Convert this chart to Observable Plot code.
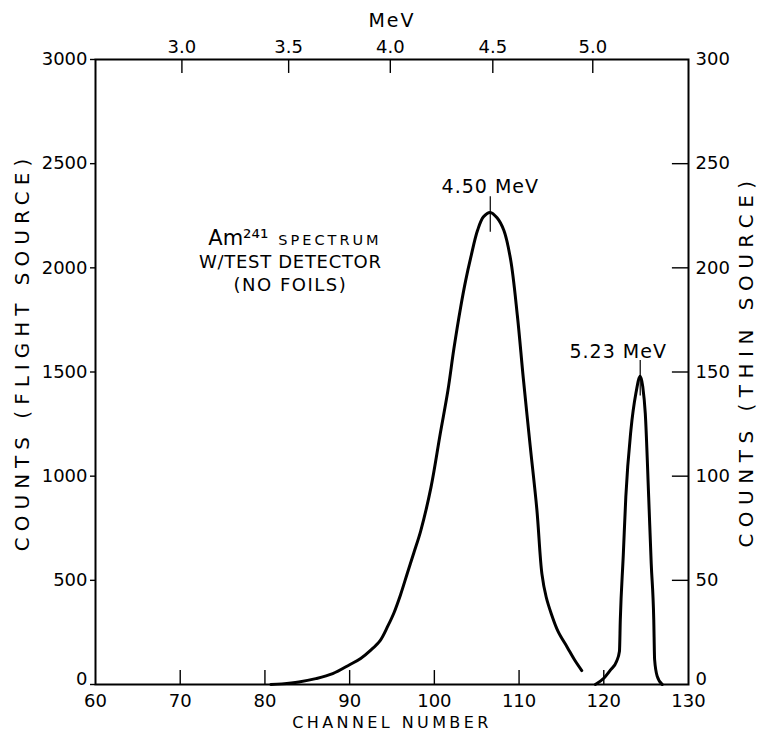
<!DOCTYPE html>
<html><head><meta charset="utf-8">
<script src="https://cdn.jsdelivr.net/npm/d3@7"></script>
<script src="https://cdn.jsdelivr.net/npm/@observablehq/plot@0.6"></script>
<style>body{margin:0;background:#fff}</style>
</head><body><div id="chart"></div>
<script>
// Flight source spectrum (left axis, counts)
const flightChannel = [80.7,82,84,86,88,90,91.3,92.5,93.6,94.5,95.2,96,96.8,97.6,98.4,99.6,100.7,101.6,102.3,103.1,103.7,104.3,105.1,105.8,106.6,107.4,108.2,109.0,109.8,110.5,111.3,112.1,112.7,113.2,113.8,114.6,115.7,116.6,117.4];
const flightCounts  = [0,3,12,28,52,95,125,165,211,280,341,430,533,635,739,946,1205,1411,1610,1810,1940,2050,2180,2245,2266,2240,2180,2040,1770,1470,1150,840,530,420,340,255,178,115,67];
// Thin source spectrum (right axis, counts)
const thinChannel = [119.0,120.0,120.8,121.5,121.85,121.95,122.3,122.6,123.2,123.8,124.3,124.6,124.9,125.3,125.6,125.9,126.0,126.3,126.9];
const thinCounts  = [0,3,7,11,16,31,62,90,122,140,148,143,130,90,58,31,12,4,0];

const channelTicks = [60,70,80,90,100,110,120,130];
const countTicks = [0,500,1000,1500,2000,2500,3000];
const thinTicks = [0,50,100,150,200,250,300];
const mevLabels = ["3.0","3.5","4.0","4.5","5.0"];
const mevChannels = [70.2,82.8,94.8,106.9,118.7];
const peakLabels = ["4.50 MeV","5.23 MeV"];
const peakChannels = [106.6,124.3];
const peakCounts = [2266,1480];
const noteLines = ["W/TEST DETECTOR","(NO FOILS)"];

const flight = flightChannel.map((c,i)=>({c, v: flightCounts[i]}));
const thin = thinChannel.map((c,i)=>({c, v: thinCounts[i]}));
const thinScale = 3000/300;
const thinLabel = new Map(countTicks.map((t,i)=>[t, String(thinTicks[i])]));
const mevLabel = new Map(mevChannels.map((c,i)=>[c, mevLabels[i]]));
const peaks = peakChannels.map((c,i)=>({c, v: peakCounts[i], label: peakLabels[i]}));

const font = "DejaVu Sans, sans-serif";
const plot = Plot.plot({
  width: 760, height: 736,
  marginLeft: 95, marginRight: 72, marginTop: 59, marginBottom: 52,
  style: {fontFamily: font, fontSize: "18px", background: "white", color: "black"},
  x: {domain: [60,130]},
  y: {domain: [0,3000]},
  marks: [
    Plot.frame({stroke: "black", strokeWidth: 2}),
    Plot.axisX({anchor: "bottom", ticks: channelTicks, tickFormat: d => String(d), tickSize: 0, tickPadding: 10, label: null, fontSize: 18}),
    Plot.ruleX(channelTicks.slice(1,-1), {y1: 0, y2: 67, strokeWidth: 1.4}),
    Plot.axisX({anchor: "top", ticks: mevChannels, tickFormat: d => mevLabel.get(d), tickSize: 0, tickPadding: 7, label: null, fontSize: 18}),
    Plot.ruleX(mevChannels, {y1: 3000, y2: 2933, strokeWidth: 1.4}),
    Plot.axisY({anchor: "left", ticks: countTicks, tickFormat: d => d === 0 ? "" : String(d), tickSize: 5, tickPadding: 3, label: null, fontSize: 18, strokeWidth: 1.4}),
    Plot.axisY({anchor: "left", ticks: countTicks.slice(0,1), tickFormat: d => String(d), tickSize: 0, tickPadding: 8, dy: -5, label: null, fontSize: 18}),
    Plot.axisY({anchor: "right", ticks: countTicks, tickFormat: d => d === 0 ? "" : thinLabel.get(d), tickSize: 0, tickPadding: 7, label: null, fontSize: 18}),
    Plot.axisY({anchor: "right", ticks: countTicks.slice(0,1), tickFormat: d => thinLabel.get(d), tickSize: 0, tickPadding: 7, dy: -5, label: null, fontSize: 18}),
    Plot.ruleY(countTicks.slice(1,-1), {x1: 128.1, x2: 130, strokeWidth: 1.4}),
    Plot.line(flight, {x: "c", y: "v", curve: "catmull-rom", stroke: "black", strokeWidth: 3}),
    Plot.line(thin, {x: "c", y: d => d.v * thinScale, curve: "monotone-x", stroke: "black", strokeWidth: 3}),
    Plot.ruleX(peaks, {x: "c", y1: d => d.v + 75, y2: d => d.v - 95, strokeWidth: 1.2}),
    Plot.text([peaks[0]], {x: "c", y: "v", text: "label", dy: -26, fontSize: 19}),
    Plot.text([peaks[1]], {x: "c", y: "v", text: "label", dy: -24, dx: -22, fontSize: 19}),
    // annotation
    Plot.text(["Am²⁴¹"], {x: 83.0, y: 2141, textAnchor: "end", dx: -22, fontSize: 21}),
    Plot.text(["SPECTRUM"], {x: 83.0, y: 2141, textAnchor: "start", dx: -12, dy: 2, fontSize: 14.5}),
    Plot.text([noteLines[0]], {x: 83.0, y: 2026, fontSize: 18}),
    Plot.text([noteLines[1]], {x: 83.0, y: 1915, fontSize: 18}),
    // axis titles
    Plot.text(["MeV"], {frameAnchor: "top", lineAnchor: "middle", textAnchor: "middle", dy: -39, fontSize: 19}),
    Plot.text(["CHANNEL NUMBER"], {frameAnchor: "bottom", lineAnchor: "middle", textAnchor: "middle", dy: 38, fontSize: 16}),
    Plot.text(["COUNTS (FLIGHT SOURCE)"], {frameAnchor: "left", lineAnchor: "middle", textAnchor: "middle", dx: -73, dy: -20, rotate: -90, fontSize: 20}),
    Plot.text(["COUNTS (THIN SOURCE)"], {frameAnchor: "right", lineAnchor: "middle", textAnchor: "middle", dx: 58, dy: -11, rotate: -90, fontSize: 20})
  ]
});
const spacing = {
  "CHANNEL NUMBER": 3.4,
  "COUNTS (FLIGHT SOURCE)": 6,
  "COUNTS (THIN SOURCE)": 6.5,
  "SPECTRUM": 3,
  "W/TEST DETECTOR": 0.7,
  "(NO FOILS)": 1.5,
  "MeV": 2,
  "4.50 MeV": 1,
  "5.23 MeV": 1
};
plot.querySelectorAll("text").forEach(t => {
  const s = spacing[t.textContent];
  if (s != null) t.setAttribute("letter-spacing", s);
});
document.getElementById("chart").append(plot);
</script>
</body></html>
